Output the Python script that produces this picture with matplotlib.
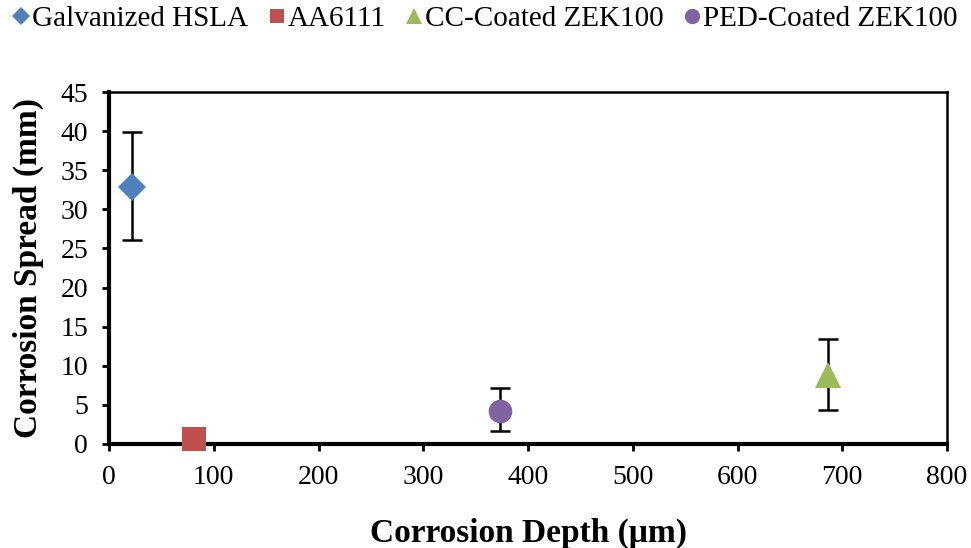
import matplotlib
matplotlib.use("Agg")
import matplotlib.pyplot as plt

plt.rcParams['font.family'] = ['Liberation Serif', 'DejaVu Serif']

# data
labels = ['Galvanized HSLA', 'AA6111', 'CC-Coated ZEK100', 'PED-Coated ZEK100']
depth = [22, 81, 686, 373]          # corrosion depth (um)
spread = [32.9, 0.6, 8.8, 4.2]      # corrosion spread (mm)
err_lo = [6.8, 0.0, 4.5, 2.5]
err_hi = [7.0, 0.0, 4.6, 3.0]

colors = ['#4F81BD', '#C0504D', '#9BBB59', '#8064A2']
markers = ['D', 's', '^', 'o']
msizes = [14, 17, 19, 17]

fig = plt.figure(figsize=(9.71, 5.48), dpi=100)
ax = fig.add_axes([0.1123, 0.1898, 0.863, 0.6422])

handles = []
for i in range(len(labels)):
    if err_lo[i] > 0 or err_hi[i] > 0:
        ax.errorbar(depth[i], spread[i], yerr=[[err_lo[i]], [err_hi[i]]],
                    fmt='none', ecolor='black', elinewidth=1.8,
                    capsize=7, capthick=1.8, zorder=2)
    h, = ax.plot(depth[i], spread[i], linestyle='none', marker=markers[i],
                 markersize=msizes[i], color=colors[i], markeredgewidth=0,
                 zorder=3, clip_on=False, label=labels[i])
    handles.append(h)

ax.set_xlim(0, 800)
ax.set_ylim(0, 45)
ax.set_xticks(range(0, 801, 100))
ax.set_yticks(range(0, 46, 5))
ax.tick_params(direction='out', length=5, width=2, labelsize=20, colors='black', pad=10)

for side in ['left', 'bottom']:
    ax.spines[side].set_linewidth(3)
for side in ['top', 'right']:
    ax.spines[side].set_linewidth(1.8)

ax.set_xlabel('Corrosion Depth (\u03bcm)', fontsize=24, fontweight='bold', labelpad=20)
ax.set_ylabel('Corrosion Spread (mm)', fontsize=24, fontweight='bold', labelpad=12)

leg = fig.legend(handles=[plt.Line2D([], [], linestyle='none', marker=m, color=c,
                                     markersize=s, markeredgewidth=0)
                          for m, c, s in zip(markers, colors, [9, 10, 11, 11])],
                 labels=labels, loc='upper center', bbox_to_anchor=(0.5, 1.037),
                 ncol=4, frameon=False, fontsize=21, handlelength=0.55,
                 handletextpad=0.1, columnspacing=0.7)

fig.savefig('out.png', dpi=100)
